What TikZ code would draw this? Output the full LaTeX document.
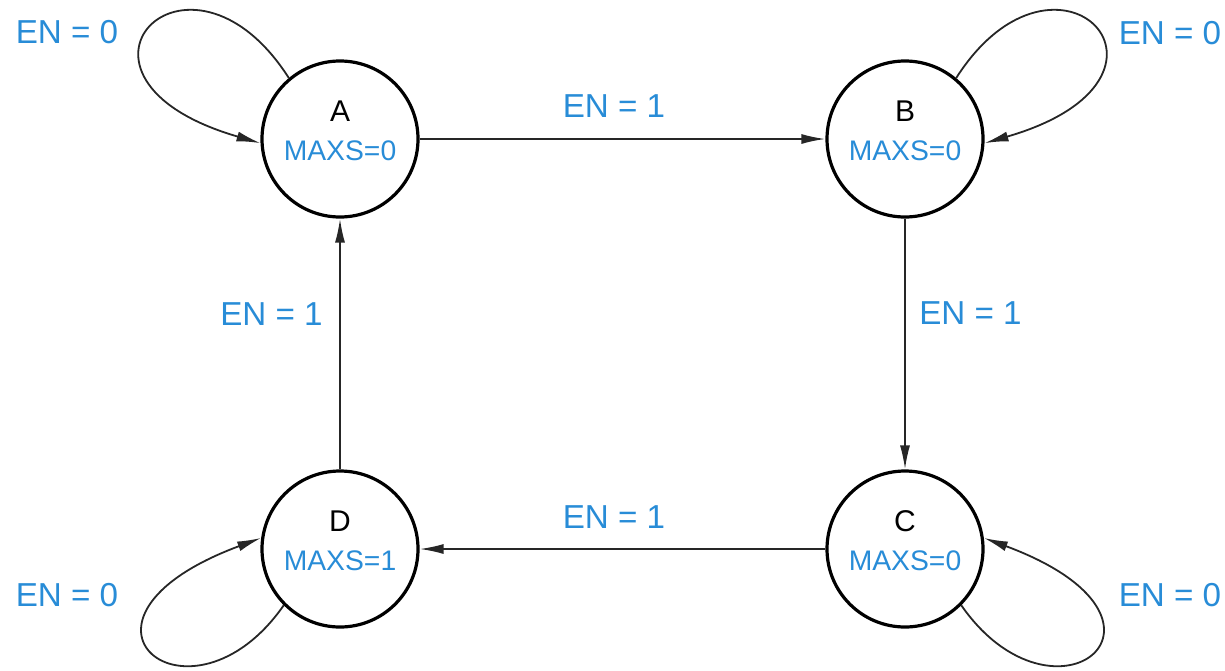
\documentclass[tikz,border=0pt]{standalone}
\usepackage{fontspec}
\setmainfont{Liberation Sans}
\usetikzlibrary{arrows.meta}
\definecolor{lblblue}{RGB}{40,140,215}
\begin{document}
\begin{tikzpicture}[x=1pt,y=-1pt,
  state/.style={circle,draw=black,line width=3.2pt,minimum size=156pt,inner sep=0pt},
  letter/.style={font=\fontsize{30}{34}\selectfont,text=black,inner sep=0pt},
  maxs/.style={font=\fontsize{28.3}{32}\selectfont,text=lblblue,inner sep=0pt},
  cond/.style={font=\fontsize{33.2}{37}\selectfont,text=lblblue,inner sep=0pt},
  arr/.style={draw=black!85,line width=1.8pt,-{Latex[length=24pt,width=10pt]}}
]
\useasboundingbox (0,0) rectangle (1225,670);

\node[state] (A) at (340,139) {};
\node[state] (B) at (905,139) {};
\node[state] (C) at (905,549) {};
\node[state] (D) at (340,549) {};

\node[letter] (Al) at ([yshift=28pt]A.center) {A};
\node[maxs] (Am) at ([yshift=-12pt]A.center) {MAXS=0};
\node[letter] (Bl) at ([yshift=28pt]B.center) {B};
\node[maxs] (Bm) at ([yshift=-12pt]B.center) {MAXS=0};
\node[letter] (Cl) at ([yshift=28pt]C.center) {C};
\node[maxs] (Cm) at ([yshift=-12pt]C.center) {MAXS=0};
\node[letter] (Dl) at ([yshift=28pt]D.center) {D};
\node[maxs] (Dm) at ([yshift=-12pt]D.center) {MAXS=1};

\draw[arr] (A) -- (B);
\draw[arr] (B) -- (C);
\draw[arr] (C) -- (D);
\draw[arr] (D) -- (A);

\draw[arr] (A.130) .. controls (188,-80) and (35,78) .. (A.183);
\draw[arr] (B.50) .. controls (1057,-80) and (1210,78) .. (B.357);
\draw[arr] (C.-45) .. controls (1055,740) and (1205,620) .. (C.8);
\draw[arr] (D.225) .. controls (190,740) and (40,620) .. (D.172);

\node[cond] (e0a) at (67,32) {EN = 0};
\node[cond] (e0b) at (1170,33) {EN = 0};
\node[cond] (e0c) at (1170,595) {EN = 0};
\node[cond] (e0d) at (67,595) {EN = 0};
\node[cond] (e1a) at (614,106.5) {EN = 1};
\node[cond] (e1b) at (970.5,313.5) {EN = 1};
\node[cond] (e1c) at (614,517) {EN = 1};
\node[cond] (e1d) at (271.5,314) {EN = 1};
\end{tikzpicture}
\end{document}
